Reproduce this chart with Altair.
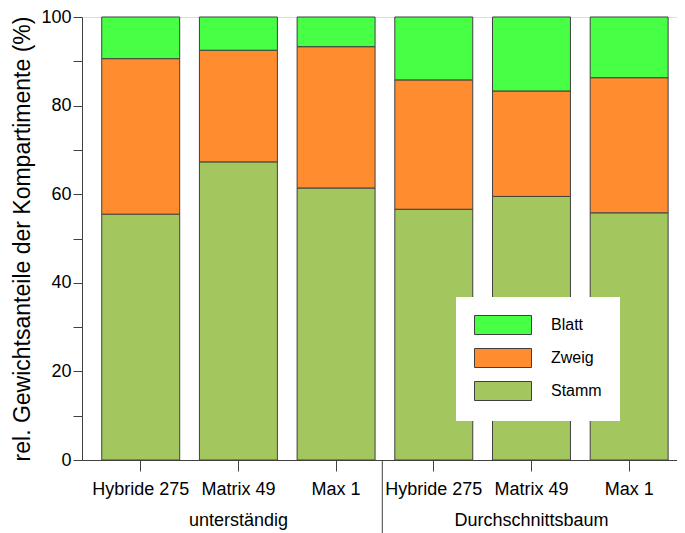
import altair as alt
import pandas as pd

# --- data ---
gruppen = ["unterständig", "unterständig", "unterständig",
           "Durchschnittsbaum", "Durchschnittsbaum", "Durchschnittsbaum"]
sorten = ["Hybride 275", "Matrix 49", "Max 1",
          "Hybride 275", "Matrix 49", "Max 1"]
stamm = [55.5, 67.3, 61.4, 56.6, 59.5, 55.8]
zweig = [35.1, 25.2, 31.9, 29.2, 23.8, 30.5]
blatt = [9.4, 7.5, 6.7, 14.2, 16.7, 13.7]
kompartimente = ["Blatt", "Zweig", "Stamm"]
farben = ["#47FF45", "#FF8C2E", "#A3C65E"]
gruppen_titel = ["unterständig", "Durchschnittsbaum"]
y_ticks = [0, 10, 20, 30, 40, 50, 60, 70, 80, 90, 100]

FONT = "Liberation Sans, Arial, sans-serif"
LINE = "#404040"
W, H = 595, 443

keys = [f"{g}|{s}" for g, s in zip(gruppen, sorten)]
rows = []
for k, st, zw, bl in zip(keys, stamm, zweig, blatt):
    rows.append(dict(key=k, komp="Stamm", wert=st, ord=0))
    rows.append(dict(key=k, komp="Zweig", wert=zw, ord=1))
    rows.append(dict(key=k, komp="Blatt", wert=bl, ord=2))
df = pd.DataFrame(rows)

df_grp = pd.DataFrame({"key": [keys[1], keys[4]], "titel": gruppen_titel})
df_sep = pd.DataFrame({"key": [keys[3]]})

xscale = alt.Scale(domain=keys, paddingInner=0.202, paddingOuter=0.1465, align=0.69)

x_axis = alt.Axis(
    title=None, labelExpr="split(datum.value, '|')[1]", labelAngle=0,
    labelFontSize=18, labelColor="black", labelFont=FONT,
    tickSize=11, tickColor=LINE, domainColor=LINE, labelPadding=9,
)
y_axis = alt.Axis(
    title="rel. Gewichtsanteile der Kompartimente (%)", values=y_ticks,
    labelExpr="datum.value % 20 == 0 ? datum.label : ''",
    labelFontSize=18, labelColor="black", labelFont=FONT,
    titleFontSize=23, titleFontWeight="normal", titleColor="black", titleFont=FONT,
    titlePadding=6, tickSize=9, tickColor=LINE, domainColor=LINE,
    labelPadding=2, grid=False,
)

bars = alt.Chart(df).mark_bar(stroke=LINE, strokeWidth=1).encode(
    x=alt.X("key:N", scale=xscale, sort=keys, axis=x_axis),
    y=alt.Y("wert:Q", stack="zero", scale=alt.Scale(domain=[0, 100], nice=False), axis=y_axis),
    color=alt.Color(
        "komp:N",
        scale=alt.Scale(domain=kompartimente, range=farben),
        legend=alt.Legend(
            title=None, orient="none", legendX=374, legendY=280,
            fillColor="white", padding=18,
            symbolType="M-1,-1H5V1H-1Z", symbolSize=361,
            symbolStrokeColor=LINE, symbolStrokeWidth=1, symbolOpacity=1,
            labelFontSize=16, labelFont=FONT, labelColor="black",
            labelOffset=57, rowPadding=9,
        ),
    ),
    order=alt.Order("ord:Q", sort="ascending"),
)

grp = alt.Chart(df_grp).mark_text(
    fontSize=18, font=FONT, baseline="alphabetic", color="black"
).encode(
    x=alt.X("key:N", sort=keys),
    y=alt.value(H + 66),
    text="titel:N",
)

sep = alt.Chart(df_sep).mark_rule(color=LINE, strokeWidth=1, xOffset=-12.5).encode(
    x=alt.X("key:N", sort=keys, bandPosition=0),
    y=alt.value(H),
    y2=alt.value(H + 73),
)

chart = alt.layer(bars, grp, sep).properties(
    width=W, height=H,
    padding={"left": 3, "top": 0, "right": 0, "bottom": 0},
).configure_view(stroke=LINE, strokeWidth=1).configure(font=FONT)

chart.save("out.html", embed_options={"renderer": "svg", "actions": False})
